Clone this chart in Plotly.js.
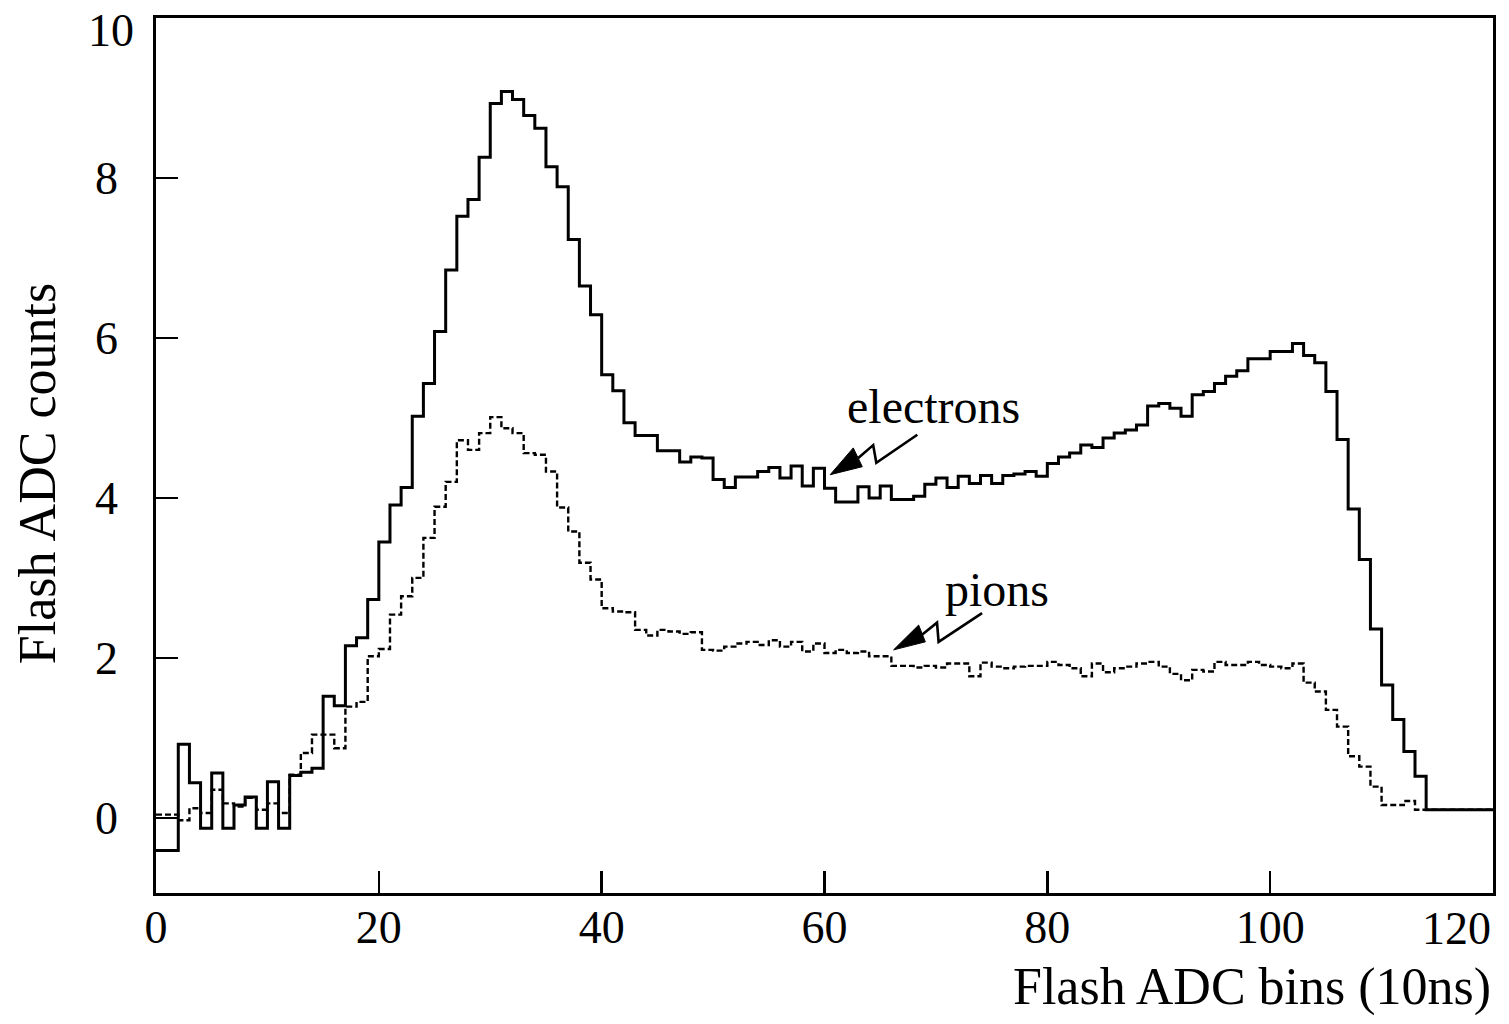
<!DOCTYPE html>
<html>
<head>
<meta charset="utf-8">
<script src="https://cdn.plot.ly/plotly-3.0.1.min.js"></script>
<style>
  html, body { margin: 0; padding: 0; background: #ffffff; }
  #chart { width: 1509px; height: 1024px; }
</style>
</head>
<body>
<div id="chart"></div>
<script>
// Bin edges of the Flash ADC histogram (10 ns bins)
const binEdges = [0,1,2,3,4,5,6,7,8,9,10,11,12,13,14,15,16,17,18,19,20,21,22,23,24,25,26,27,28,29,
  30,31,32,33,34,35,36,37,38,39,40,41,42,43,44,45,46,47,48,49,50,51,52,53,54,55,56,57,58,59,
  60,61,62,63,64,65,66,67,68,69,70,71,72,73,74,75,76,77,78,79,80,81,82,83,84,85,86,87,88,89,
  90,91,92,93,94,95,96,97,98,99,100,101,102,103,104,105,106,107,108,109,110,111,112,113,114,115,116,117,118,119,120];

// Electrons: mean Flash ADC counts per bin (bins 0..119)
const electrons = [
  -0.41,-0.41,0.92,0.44,-0.13,0.56,-0.13,0.16,0.26,-0.13,
  0.45,-0.13,0.53,0.57,0.62,1.52,1.40,2.15,2.25,2.73,
  3.45,3.91,4.13,5.02,5.43,6.08,6.85,7.52,7.73,8.26,
  8.93,9.08,8.98,8.78,8.62,8.14,7.89,7.23,6.65,6.29,
  5.54,5.34,4.94,4.78,4.78,4.59,4.59,4.45,4.51,4.50,
  4.23,4.13,4.26,4.26,4.33,4.38,4.25,4.40,4.15,4.37,
  4.12,3.95,3.95,4.14,4.00,4.15,3.98,3.98,4.02,4.17,
  4.25,4.13,4.27,4.18,4.28,4.18,4.28,4.30,4.33,4.27,
  4.43,4.51,4.56,4.66,4.63,4.75,4.81,4.85,4.91,5.15,
  5.18,5.12,5.02,5.29,5.33,5.43,5.52,5.59,5.74,5.74,
  5.83,5.83,5.93,5.78,5.69,5.33,4.73,3.86,3.23,2.36,
  1.66,1.23,0.83,0.52,0.10,0.10,0.10,0.10,0.10,0.10
];

// Pions: mean Flash ADC counts per bin (bins 0..119)
const pions = [
  0.04,0.04,-0.03,0.12,0.06,0.35,0.18,0.14,0.25,0.10,
  0.18,0.06,0.54,0.81,1.04,1.04,0.87,1.39,1.45,2.02,
  2.11,2.54,2.77,3.00,3.50,3.89,4.20,4.72,4.60,4.81,
  5.01,4.87,4.81,4.56,4.54,4.33,3.88,3.58,3.19,2.98,
  2.62,2.58,2.57,2.35,2.28,2.35,2.33,2.30,2.32,2.10,
  2.09,2.14,2.18,2.20,2.16,2.22,2.14,2.20,2.08,2.18,
  2.06,2.10,2.06,2.08,2.02,2.02,1.90,1.90,1.88,1.90,
  1.88,1.93,1.93,1.77,1.94,1.89,1.87,1.89,1.90,1.90,
  1.95,1.91,1.87,1.77,1.93,1.82,1.87,1.89,1.93,1.95,
  1.89,1.80,1.72,1.85,1.83,1.95,1.91,1.91,1.95,1.91,
  1.89,1.87,1.93,1.69,1.58,1.35,1.14,0.77,0.64,0.39,
  0.16,0.16,0.21,0.10,0.10,0.10,0.10,0.10,0.10,0.10
];

const xTicks = [0, 20, 40, 60, 80, 100, 120];
const yTicks = [0, 2, 4, 6, 8, 10];

const xTitle = "Flash ADC bins (10ns)";
const yTitle = "Flash ADC counts";
const labelElectrons = "electrons";
const labelPions = "pions";

// Step outline: each value is held across its bin, last value repeated at the final edge
function stepY(vals) { return vals.concat([vals[vals.length - 1]]); }

const FONT = "Liberation Serif, Times New Roman, serif";
const TICKSIZE = 46;

const xLast = xTicks[xTicks.length - 1];
const yLast = yTicks[yTicks.length - 1];

const traces = [
  {
    type: "scatter", mode: "lines", name: labelPions,
    x: binEdges, y: stepY(pions),
    line: { shape: "hv", color: "#000", width: 2.4, dash: "6px,3px" },
    hoverinfo: "skip"
  },
  {
    type: "scatter", mode: "lines", name: labelElectrons,
    x: binEdges, y: stepY(electrons),
    line: { shape: "hv", color: "#000", width: 3 },
    hoverinfo: "skip"
  }
];

function P(pts) { return "M" + pts.map(p => p[0] + "," + p[1]).join(" L"); }

const layout = {
  width: 1509, height: 1024,
  margin: { l: 156, r: 16, t: 18, b: 131 },
  paper_bgcolor: "#fff", plot_bgcolor: "#fff",
  showlegend: false,
  font: { family: FONT, color: "#000" },
  xaxis: {
    range: [0, 120], tickvals: xTicks,
    // the end label is placed inside the page edge (see annotations), as in the original
    ticktext: xTicks.map(v => v === xLast ? "" : String(v)),
    ticks: "inside", ticklen: 22, tickwidth: 2.5, tickcolor: "#000",
    showline: true, linewidth: 2.8, linecolor: "#000", mirror: true,
    showgrid: false, zeroline: false,
    tickfont: { family: FONT, size: TICKSIZE, color: "#000" },
    ticklabelstandoff: -8
  },
  yaxis: {
    range: [-0.94, 10], tickvals: yTicks,
    ticktext: yTicks.map(v => v === yLast ? "" : String(v)),
    ticks: "inside", ticklen: 22, tickwidth: 2.5, tickcolor: "#000",
    showline: true, linewidth: 2.8, linecolor: "#000", mirror: true,
    showgrid: false, zeroline: false,
    tickfont: { family: FONT, size: TICKSIZE, color: "#000" },
    ticklabelstandoff: 26
  },
  annotations: [
    { text: String(xLast), xref: "x", yref: "paper", x: xLast, y: -0.04,
      xanchor: "right", yanchor: "middle", showarrow: false,
      font: { family: FONT, size: TICKSIZE, color: "#000" } },
    { text: String(yLast), xref: "paper", yref: "y", x: -0.034, y: yLast - 0.15,
      xanchor: "center", yanchor: "middle", showarrow: false,
      font: { family: FONT, size: TICKSIZE, color: "#000" } },
    { text: xTitle, xref: "paper", yref: "paper", x: 1, y: -0.107,
      xanchor: "right", yanchor: "middle", showarrow: false,
      font: { family: FONT, size: 52, color: "#000" } },
    { text: yTitle, xref: "paper", yref: "paper", x: -0.088, y: 0.479,
      xanchor: "center", yanchor: "middle", textangle: -90, showarrow: false,
      font: { family: FONT, size: 52, color: "#000" } },
    { text: labelElectrons, xref: "x", yref: "y", x: 69.8, y: 5.14,
      xanchor: "center", yanchor: "middle", showarrow: false,
      font: { family: FONT, size: 48, color: "#000" } },
    { text: labelPions, xref: "x", yref: "y", x: 75.5, y: 2.85,
      xanchor: "center", yanchor: "middle", showarrow: false,
      font: { family: FONT, size: 48, color: "#000" } }
  ],
  shapes: [
    // electrons lightning arrow
    { type: "path", xref: "x", yref: "y",
      path: P([[60.51,4.29],[62.58,4.625],[63.39,4.39]]) + " Z",
      fillcolor: "#000", line: { color: "#000", width: 1 } },
    { type: "path", xref: "x", yref: "y",
      path: P([[63.03,4.5],[64.37,4.66],[64.65,4.44],[68.33,4.79]]),
      fillcolor: "rgba(0,0,0,0)", line: { color: "#000", width: 2.6 } },
    // pions lightning arrow
    { type: "path", xref: "x", yref: "y",
      path: P([[66.2,2.1],[68.45,2.41],[69.05,2.2]]) + " Z",
      fillcolor: "#000", line: { color: "#000", width: 1 } },
    { type: "path", xref: "x", yref: "y",
      path: P([[68.75,2.29],[70.1,2.44],[70.24,2.2],[74.14,2.56]]),
      fillcolor: "rgba(0,0,0,0)", line: { color: "#000", width: 2.6 } }
  ]
};

Plotly.newPlot("chart", traces, layout, { staticPlot: true, displayModeBar: false });
</script>
</body>
</html>
